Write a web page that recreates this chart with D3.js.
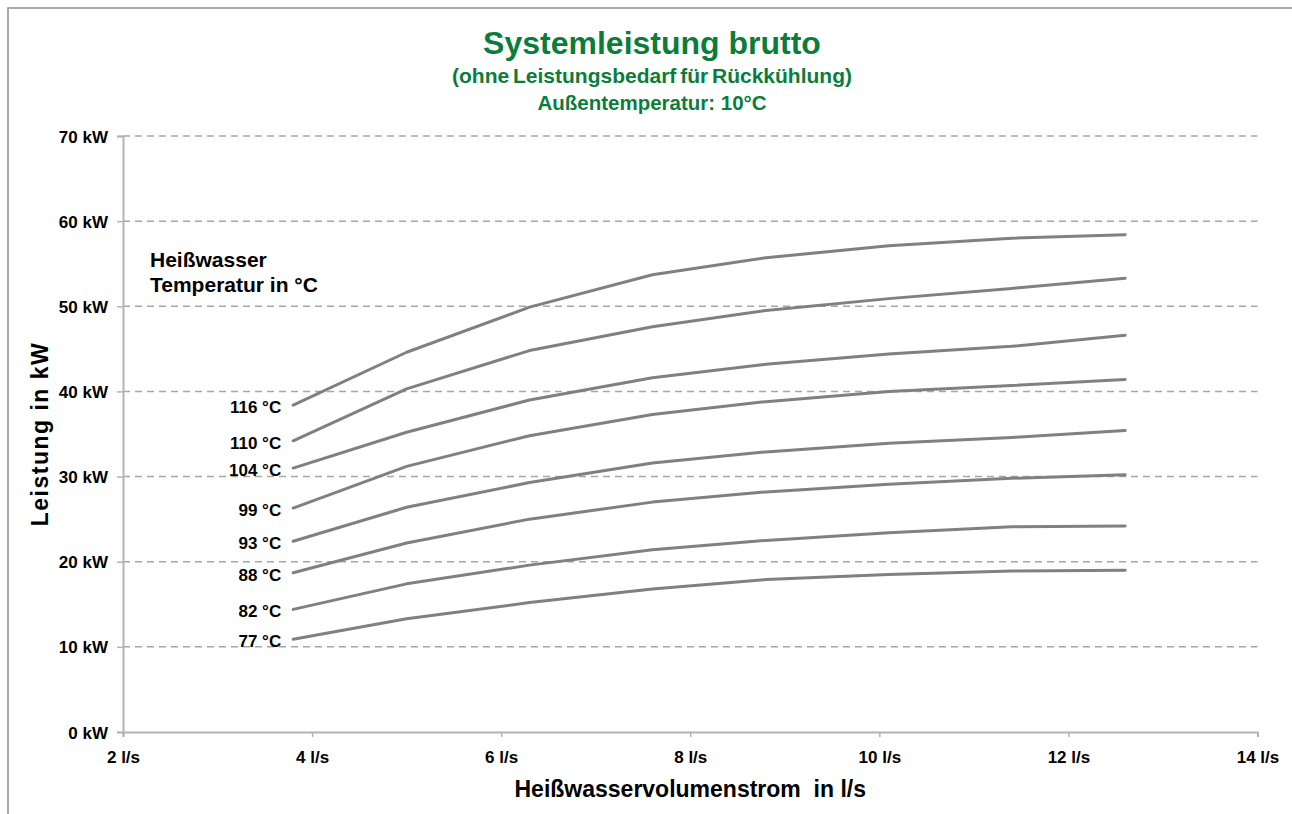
<!DOCTYPE html>
<html lang="de">
<head>
    <meta charset="UTF-8">
    <title>Systemleistung brutto</title>
    <script src="https://d3js.org/d3.v7.min.js"></script>
    <style>
        body {
            margin: 0;
            padding: 0;
            background: #fff;
            overflow: hidden;
            font-family: "Liberation Sans", Arial, sans-serif;
        }
        svg {
            display: block;
        }
        text {
            font-weight: bold;
            fill: #000;
        }
        .title text {
            fill: #0b7d3b;
        }
        .grid line {
            stroke: #a6a6a6;
            stroke-width: 1.5px;
            stroke-dasharray: 7, 5;
        }
        .curve {
            fill: none;
            stroke: #808080;
            stroke-width: 3px;
            stroke-linecap: round;
            stroke-linejoin: round;
        }
    </style>
</head>
<body>
    <script>
        // Heißwasser-Volumenstrom in l/s (Messpunkte)
        const flow = [3.8, 5.0, 6.3, 7.6, 8.8, 10.1, 11.4, 12.6];

        // Heißwasser-Temperaturen
        const temps = ['116 °C', '110 °C', '104 °C', '99 °C', '93 °C', '88 °C', '82 °C', '77 °C'];

        // Systemleistung in kW je Temperatur
        const p116 = [38.4, 44.6, 49.9, 53.7, 55.7, 57.1, 58.0, 58.4];
        const p110 = [34.2, 40.3, 44.8, 47.6, 49.5, 50.9, 52.1, 53.3];
        const p104 = [31.0, 35.2, 39.0, 41.6, 43.2, 44.4, 45.3, 46.6];
        const p99  = [26.3, 31.2, 34.8, 37.3, 38.8, 40.0, 40.7, 41.4];
        const p93  = [22.4, 26.4, 29.3, 31.6, 32.9, 33.9, 34.6, 35.4];
        const p88  = [18.7, 22.2, 25.0, 27.0, 28.2, 29.1, 29.8, 30.2];
        const p82  = [14.4, 17.4, 19.6, 21.4, 22.5, 23.4, 24.1, 24.2];
        const p77  = [10.9, 13.3, 15.2, 16.8, 17.9, 18.5, 18.9, 19.0];
        const seriesValues = [p116, p110, p104, p99, p93, p88, p82, p77];

        const xTicks = [2, 4, 6, 8, 10, 12, 14];
        const yTicks = [0, 10, 20, 30, 40, 50, 60, 70];

        const width = 1292, height = 814;
        const margin = { top: 136, right: 34, bottom: 82, left: 123 };

        const svg = d3.select('body').append('svg')
            .attr('width', width)
            .attr('height', height);

        // Rahmen (rechts und unten abgeschnitten wie im Original)
        svg.append('rect')
            .attr('x', 8)
            .attr('y', 8)
            .attr('width', width + 20)
            .attr('height', height + 20)
            .attr('fill', 'none')
            .attr('stroke', '#909090')
            .attr('stroke-width', 1.5);

        const x = d3.scaleLinear()
            .domain([2, 14])
            .range([margin.left, width - margin.right - 0.5]);

        const y = d3.scaleLinear()
            .domain([0, 70])
            .range([height - margin.bottom, margin.top]);

        // Gitterlinien
        svg.append('g')
            .attr('class', 'grid')
            .selectAll('line')
            .data(yTicks.filter(d => d > 0))
            .enter().append('line')
            .attr('x1', x(2))
            .attr('x2', x(14))
            .attr('y1', d => y(d))
            .attr('y2', d => y(d));

        // Achsen
        const xAxis = svg.append('g')
            .attr('transform', `translate(0,${y(0)})`)
            .call(d3.axisBottom(x).tickValues(xTicks).tickSize(5).tickFormat(d => d + ' l/s'));

        const yAxis = svg.append('g')
            .attr('transform', `translate(${x(2)},0)`)
            .call(d3.axisLeft(y).tickValues(yTicks).tickSize(6).tickFormat(d => d + ' kW'));

        [xAxis, yAxis].forEach(a => {
            a.select('.domain').attr('stroke', '#b3b3b3').attr('stroke-width', 2);
            a.selectAll('.tick line').attr('stroke', '#b3b3b3').attr('stroke-width', 1.5);
            a.selectAll('.tick text')
                .attr('font-family', '"Liberation Sans", Arial, sans-serif')
                .attr('font-size', 17)
                .attr('font-weight', 'bold')
                .attr('fill', '#000');
        });
        xAxis.selectAll('.tick text').attr('dy', null).attr('y', 31);
        yAxis.selectAll('.tick text').attr('x', -15).attr('dy', '0.36em');

        // Kurven
        const line = d3.line()
            .x((d, i) => x(flow[i]))
            .y(d => y(d));

        svg.append('g')
            .selectAll('path')
            .data(seriesValues)
            .enter().append('path')
            .attr('class', 'curve')
            .attr('d', d => line(d));

        // Beschriftung der Kurven
        svg.append('g')
            .selectAll('text')
            .data(seriesValues)
            .enter().append('text')
            .attr('x', x(flow[0]) - 12)
            .attr('y', d => y(d[0]) + 8)
            .attr('text-anchor', 'end')
            .attr('font-size', 17)
            .text((d, i) => temps[i]);

        // Legendentext
        const note = svg.append('text')
            .attr('x', 150)
            .attr('font-size', 21);
        note.append('tspan').attr('x', 150).attr('y', 267).text('Heißwasser');
        note.append('tspan').attr('x', 150).attr('y', 292).text('Temperatur in °C');

        // Titel
        const title = svg.append('g').attr('class', 'title')
            .attr('text-anchor', 'middle');
        title.append('text')
            .attr('x', 652).attr('y', 54)
            .attr('font-size', 32)
            .text('Systemleistung brutto');
        title.append('text')
            .attr('x', 652).attr('y', 83)
            .attr('font-size', 21)
            .attr('word-spacing', -2)
            .text('(ohne Leistungsbedarf für Rückkühlung)');
        title.append('text')
            .attr('x', 652).attr('y', 110)
            .attr('font-size', 20.5)
            .text('Außentemperatur: 10°C');

        // Achsentitel
        svg.append('text')
            .attr('x', (x(2) + x(14)) / 2)
            .attr('y', 797)
            .attr('text-anchor', 'middle')
            .attr('font-size', 23)
            .style('white-space', 'pre')
            .text('Heißwasservolumenstrom  in l/s');

        svg.append('text')
            .attr('transform', `translate(48,${(y(0) + y(70)) / 2}) rotate(-90)`)
            .attr('text-anchor', 'middle')
            .attr('font-size', 23)
            .attr('letter-spacing', 1.5)
            .text('Leistung in kW');
    </script>
</body>
</html>
